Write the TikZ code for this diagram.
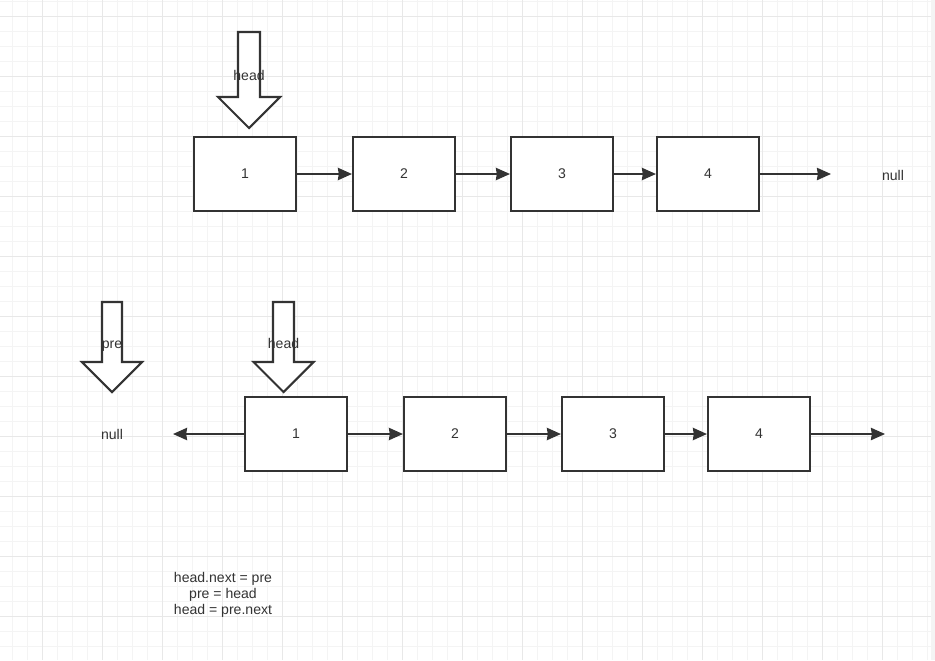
\documentclass[tikz,border=0pt]{standalone}
\usepackage{fontspec}
\setmainfont{Liberation Sans}
\usetikzlibrary{arrows.meta}
\definecolor{ink}{HTML}{333333}
\definecolor{gridminor}{HTML}{F4F4F4}
\definecolor{gridmajor}{HTML}{E8E8E8}
\tikzset{
  listbox/.style={draw=ink,line width=1.2pt,fill=white,minimum width=2.04cm,minimum height=1.48cm,
    font=\fontsize{8}{9}\selectfont,text=ink},
  label/.style={font=\fontsize{8}{9}\selectfont,text=ink,inner sep=0pt,text height=1.6ex,text depth=0.4ex},
  link/.style={draw=ink,line width=1.1pt,-{Stealth[length=8pt,width=7pt,inset=0.5pt]}},
  blockarrow/.style={draw=ink,line width=1.2pt,fill=white,line join=miter}
}

\begin{document}
\begin{tikzpicture}[x=0.02cm,y=-0.02cm]
  \useasboundingbox (0,0) rectangle (935,660);
  % grid
  \foreach \x in {12,27,...,927}
    \draw[gridminor,line width=0.55pt] (\x,0) -- (\x,660);
  \foreach \y in {1,16,...,656}
    \draw[gridminor,line width=0.55pt] (0,\y) -- (931,\y);
  \foreach \x in {42,102,...,882}
    \draw[gridmajor,line width=0.55pt] (\x,0) -- (\x,660);
  \foreach \y in {16,76,...,616}
    \draw[gridmajor,line width=0.55pt] (0,\y) -- (931,\y);
  \fill[gridminor] (931,0) rectangle (935,660);

  % first list
  \node[listbox] (a1) at (245,174) {1};
  \node[listbox] (a2) at (404,174) {2};
  \node[listbox] (a3) at (562,174) {3};
  \node[listbox] (a4) at (708,174) {4};
  \coordinate (aend) at (831,174);
  \node[label] (anull) at (893,175) {null};
  \draw[link] (a1) -- (a2);
  \draw[link] (a2) -- (a3);
  \draw[link] (a3) -- (a4);
  \draw[link] (a4) -- (aend);

  % second list
  \node[listbox] (b1) at (296,434) {1};
  \node[listbox] (b2) at (455,434) {2};
  \node[listbox] (b3) at (613,434) {3};
  \node[listbox] (b4) at (759,434) {4};
  \coordinate (bend) at (885,434);
  \coordinate (bback) at (173,434);
  \node[label] (bnull) at (112,434) {null};
  \draw[link] (b1) -- (bback);
  \draw[link] (b1) -- (b2);
  \draw[link] (b2) -- (b3);
  \draw[link] (b3) -- (b4);
  \draw[link] (b4) -- (bend);

  % pointers
  \foreach \cx/\top/\neck/\tip/\w/\h in {249/32/97/128/11/31,112/302/362/392/10/30,283.5/302/362/392/10.5/30}
    \draw[blockarrow] (\cx-\w,\top) -- (\cx+\w,\top) -- (\cx+\w,\neck) -- (\cx+\h,\neck)
      -- (\cx,\tip) -- (\cx-\h,\neck) -- (\cx-\w,\neck) -- cycle;
  \node[label] (headA) at (249,75) {head};
  \node[label] (preB) at (112,343) {pre};
  \node[label] (headB) at (283.5,343) {head};

  \node[label,align=center,text height=,text depth=] (steps) at (223,595) {head.next = pre\\pre = head\\head = pre.next};
\end{tikzpicture}
\end{document}
